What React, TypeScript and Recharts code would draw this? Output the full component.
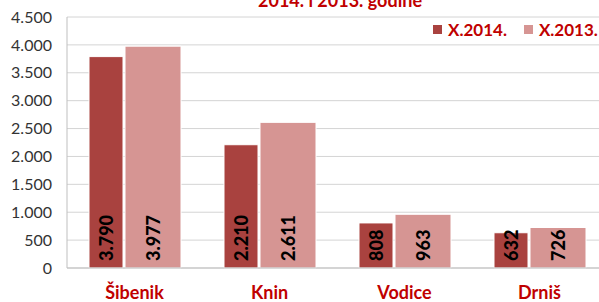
import React from 'react';
import {
  BarChart,
  Bar,
  XAxis,
  YAxis,
  CartesianGrid,
  Legend,
  LabelList,
} from 'recharts';

const towns = ['Šibenik', 'Knin', 'Vodice', 'Drniš'];
const values2014 = [3790, 2210, 808, 632];
const values2013 = [3977, 2611, 963, 726];
const yTicks = [0, 500, 1000, 1500, 2000, 2500, 3000, 3500, 4000, 4500];

const series = [
  { key: 'x2014', name: 'X.2014.', color: '#A9423F', size: 34 },
  { key: 'x2013', name: 'X.2013.', color: '#D69593', size: 56 },
];

const data = towns.map((town, i) => ({
  town,
  x2014: values2014[i],
  x2013: values2013[i],
}));

const FONT = 'Lato, "Liberation Sans", sans-serif';
const RED = '#C00000';

// 3790 -> "3.790"
const fmt = (v: number) => String(v).replace(/\B(?=(\d{3})+(?!\d))/g, '.');

const ValueLabel = (props: any) => {
  const { x, y, width, height, value } = props;
  const cx = x + width / 2;
  const by = y + height - 7;
  return (
    <text
      x={cx}
      y={by}
      transform={`rotate(-90 ${cx} ${by})`}
      textAnchor="start"
      dominantBaseline="central"
      style={{ fontFamily: FONT, fontWeight: 900, fontSize: 18, fill: '#000' }}
    >
      {fmt(value)}
    </text>
  );
};

const TownTick = (props: any) => {
  const { x, y, payload } = props;
  return (
    <text
      x={x}
      y={y + 23}
      textAnchor="middle"
      style={{ fontFamily: FONT, fontWeight: 700, fontSize: 18, fill: RED }}
    >
      {payload.value}
    </text>
  );
};

const LegendContent = () => (
  <div style={{ display: 'flex', fontFamily: FONT, fontWeight: 700, fontSize: 17, color: RED, whiteSpace: 'nowrap' }}>
    {series.map((s) => (
      <div key={s.key} style={{ display: 'flex', alignItems: 'center', marginRight: 17 }}>
        <span style={{ width: 9, height: 9, background: s.color, marginRight: 6, display: 'inline-block' }} />
        {s.name}
      </div>
    ))}
  </div>
);

export default function App() {
  return (
    <div
      style={{
        position: 'fixed',
        left: 0,
        top: 0,
        width: 599,
        height: 302,
        overflow: 'hidden',
        background: '#fff',
      }}
    >
      <div
        style={{
          position: 'absolute',
          top: -11,
          left: 258,
          fontFamily: FONT,
          fontWeight: 700,
          fontSize: 18,
          color: RED,
          whiteSpace: 'nowrap',
        }}
      >
        2014. i 2013. godine
      </div>
      <BarChart
        width={620}
        height={302}
        data={data}
        margin={{ top: 17, right: 13, left: 0, bottom: 0 }}
        barGap={2}
      >
        <CartesianGrid vertical={false} stroke="#D4D4D4" />
        <XAxis
          dataKey="town"
          height={34}
          axisLine={{ stroke: '#BFBFBF' }}
          tickLine={false}
          tick={<TownTick />}
          interval={0}
        />
        <YAxis
          width={67}
          domain={[0, 4500]}
          ticks={yTicks}
          tickFormatter={fmt}
          axisLine={{ stroke: '#BFBFBF' }}
          tickLine={false}
          tickMargin={9}
          tick={{ fill: '#333', fontFamily: FONT, fontSize: 16 }}
        />
        <Legend
          layout="horizontal"
          verticalAlign="middle"
          align="center"
          content={<LegendContent />}
          wrapperStyle={{ position: 'absolute', top: 19, left: 433, width: 240 }}
        />
        {series.map((s) => (
          <Bar
            key={s.key}
            dataKey={s.key}
            name={s.name}
            fill={s.color}
            barSize={s.size}
            stroke="#fff"
            strokeWidth={1}
            isAnimationActive={false}
          >
            <LabelList dataKey={s.key} content={<ValueLabel />} />
          </Bar>
        ))}
      </BarChart>
    </div>
  )
}
